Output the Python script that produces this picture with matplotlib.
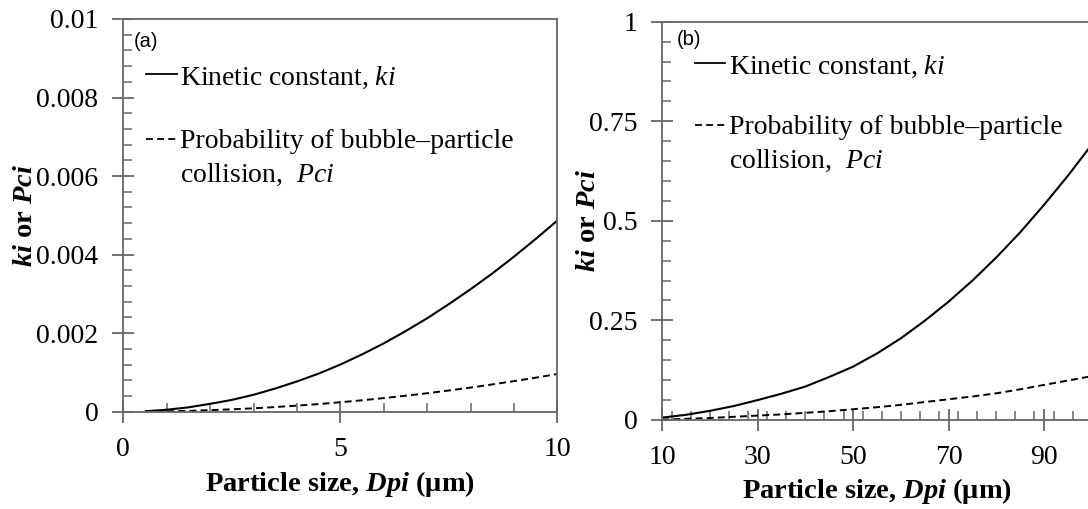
import matplotlib
matplotlib.use("Agg")
import matplotlib.pyplot as plt
from matplotlib.lines import Line2D
from matplotlib.ticker import MultipleLocator, FixedLocator, FixedFormatter

# ---- data -------------------------------------------------------------
# (a) fine particles, 0.5-10 um
dp_a = [0.5, 1, 1.5, 2, 2.5, 3, 3.5, 4, 4.5, 5,
        5.5, 6, 6.5, 7, 7.5, 8, 8.5, 9, 9.5, 10]
ki_a = [0.00001, 0.00005, 0.00011, 0.00020, 0.00030, 0.00043, 0.00059,
        0.00077, 0.00097, 0.00120, 0.00146, 0.00174, 0.00205, 0.00238,
        0.00274, 0.00312, 0.00352, 0.00395, 0.00440, 0.00487]
pci_a = [0.000002, 0.00001, 0.00002, 0.00004, 0.00006, 0.000086, 0.000118,
         0.000154, 0.000194, 0.00024, 0.00029, 0.000346, 0.000406, 0.00047,
         0.00054, 0.000614, 0.000694, 0.000778, 0.000866, 0.00096]

# (b) coarse particles, 10-100 um
dp_b = [10, 15, 20, 25, 30, 35, 40, 45, 50, 55,
        60, 65, 70, 75, 80, 85, 90, 95, 100]
ki_b = [0.006, 0.013, 0.023, 0.035, 0.050, 0.066, 0.084, 0.108, 0.134,
        0.167, 0.205, 0.249, 0.297, 0.350, 0.408, 0.471, 0.540, 0.613, 0.691]
pci_b = [0.001, 0.003, 0.005, 0.008, 0.011, 0.014, 0.018, 0.022, 0.027,
         0.032, 0.038, 0.045, 0.052, 0.059, 0.067, 0.077, 0.088, 0.099, 0.110]

yticks_a = [0, 0.002, 0.004, 0.006, 0.008, 0.01]
ytick_labels_a = ["0", "0.002", "0.004", "0.006", "0.008", "0.01"]
xticks_a = [0, 5, 10]
xtick_labels_a = ["0", "5", "10"]

yticks_b = [0, 0.25, 0.5, 0.75, 1]
ytick_labels_b = ["0", "0.25", "0.5", "0.75", "1"]
xticks_b = [10, 30, 50, 70, 90]
xtick_labels_b = ["10", "30", "50", "70", "90"]

label_k = ["Kinetic constant, $ki$"]
label_p = ["Probability of bubble\u2013particle", "collision,  $Pci$"]
xlabel = "Particle size, $\\mathbfit{Dpi}$ (\u03bcm)"
ylabel = "$\\mathbfit{ki}$ or $\\mathbfit{Pci}$"

# ---- style ------------------------------------------------------------
plt.rcParams.update({
    "font.family": ["Liberation Serif", "DejaVu Serif"],
    "mathtext.fontset": "custom",
    "mathtext.rm": "Liberation Serif",
    "mathtext.it": "Liberation Serif:italic",
    "mathtext.bf": "Liberation Serif:bold",
    "mathtext.bfit": "Liberation Serif:bold:italic",
    "lines.scale_dashes": False,
})

SPINE = "#666666"
TICK_FS = 20
LEG_FS = 20
LABEL_FS = 20.5
LEAD_PT = 24.5
DASH = (0, (5.0, 3.0))

fig = plt.figure(figsize=(10.88, 5.09), dpi=100)
ax_a = fig.add_axes([0.1133, 0.1912, 0.3991, 0.7715])
ax_b = fig.add_axes([0.6087, 0.1749, 0.3947, 0.7825])


def style_axes(ax, xticks, xlabels, xminor, yticks, ylabels, yminor):
    for s in ax.spines.values():
        s.set_color(SPINE)
        s.set_linewidth(1.3)
    ax.xaxis.set_major_locator(FixedLocator(xticks))
    ax.xaxis.set_major_formatter(FixedFormatter(xlabels))
    ax.yaxis.set_major_locator(FixedLocator(yticks))
    ax.yaxis.set_major_formatter(FixedFormatter(ylabels))
    ax.xaxis.set_minor_locator(MultipleLocator(xminor))
    ax.yaxis.set_minor_locator(MultipleLocator(yminor))
    ax.tick_params(which="major", direction="inout", length=16, width=1.3,
                   color=SPINE, labelsize=TICK_FS, pad=10,
                   top=False, right=False)
    ax.tick_params(which="minor", direction="in", length=6.5, width=1.1,
                   color=SPINE, top=False, right=False)


def draw_key(ax, x0, x1, y_line, x_text, y_base, lines, ls):
    ax.add_line(Line2D([x0, x1], [y_line, y_line], transform=ax.transAxes,
                       color="black", lw=1.3, linestyle=ls))
    for i, line in enumerate(lines):
        ax.annotate(line, xy=(x_text, y_base), xycoords="axes fraction",
                    xytext=(0, -i * LEAD_PT), textcoords="offset points",
                    fontsize=LEG_FS, ha="left", va="baseline")


# ---- panel (a) --------------------------------------------------------
ax_a.plot(dp_a, ki_a, color="black", lw=1.5, solid_capstyle="butt")
ax_a.plot(dp_a, pci_a, color="black", lw=1.4, linestyle=DASH)
ax_a.set_xlim(0, 10)
ax_a.set_ylim(0, 0.01)
style_axes(ax_a, xticks_a, xtick_labels_a, 1, yticks_a, ytick_labels_a, 0.0004)
ax_a.text(0.0235, 0.968, "(a)", transform=ax_a.transAxes,
          family="Liberation Sans", fontsize=14.5, ha="left", va="top")
draw_key(ax_a, 0.0523, 0.123, 0.860, 0.1306, 0.832, label_k, "-")
draw_key(ax_a, 0.0523, 0.123, 0.6946, 0.1306, 0.6709, label_p, DASH)
ax_a.set_xlabel(xlabel, fontsize=LABEL_FS, fontweight="bold")
ax_a.set_ylabel(ylabel, fontsize=LABEL_FS, fontweight="bold")
ax_a.xaxis.set_label_coords(0.5, -0.146)
ax_a.yaxis.set_label_coords(-0.197, 0.5)

# ---- panel (b) --------------------------------------------------------
ax_b.plot(dp_b, ki_b, color="black", lw=1.5, solid_capstyle="butt")
ax_b.plot(dp_b, pci_b, color="black", lw=1.4, linestyle=DASH)
ax_b.set_xlim(10, 100)
ax_b.set_ylim(0, 1)
style_axes(ax_b, xticks_b, xtick_labels_b, 4, yticks_b, ytick_labels_b, 0.05)
ax_b.text(0.0335, 0.979, "(b)", transform=ax_b.transAxes,
          family="Liberation Sans", fontsize=14.5, ha="left", va="top")
draw_key(ax_b, 0.0762, 0.146, 0.8955, 0.1546, 0.868, label_k, "-")
draw_key(ax_b, 0.0762, 0.146, 0.7406, 0.1546, 0.718, label_p, DASH)
ax_b.set_xlabel(xlabel, fontsize=LABEL_FS, fontweight="bold")
ax_b.set_ylabel(ylabel, fontsize=LABEL_FS, fontweight="bold")
ax_b.xaxis.set_label_coords(0.5, -0.14)
ax_b.yaxis.set_label_coords(-0.143, 0.5)

fig.savefig("out.png", dpi=100)
